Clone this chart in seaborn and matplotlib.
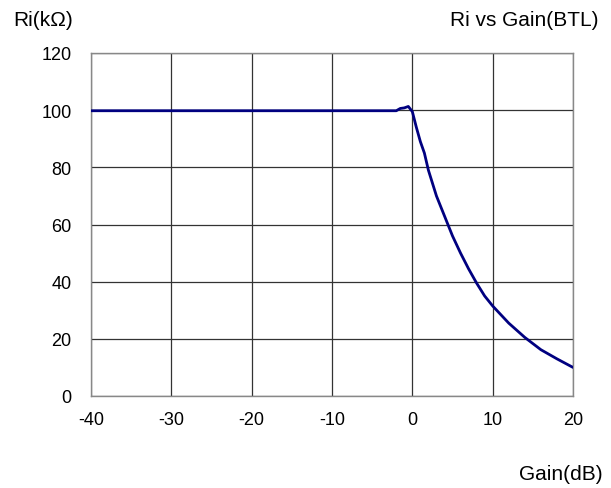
import matplotlib
matplotlib.use("Agg")
import matplotlib.pyplot as plt
import seaborn as sns
import pandas as pd

gain_db = [-40, -35, -30, -25, -20, -15, -10, -5, -2, -1.5, -1, -0.5, 0, 0.5, 1, 1.5, 2, 3, 4, 5, 6, 7, 8, 9, 10, 12, 14, 16, 18, 20]
ri_kohm = [99.8, 99.8, 99.8, 99.8, 99.8, 99.8, 99.8, 99.8, 99.8, 100.6, 100.8, 101.3, 99.5, 94, 89, 85, 79, 70, 63, 56, 50, 44.5, 39.5, 35, 31.5, 25.5, 20.5, 16.2, 13, 10]
x_ticks = [-40, -30, -20, -10, 0, 10, 20]
y_ticks = [0, 20, 40, 60, 80, 100, 120]

df = pd.DataFrame({"gain": gain_db, "ri": ri_kohm})

sns.set_style("white")
plt.rcParams['font.family'] = ['Liberation Sans', 'DejaVu Sans']
plt.rcParams['text.color'] = 'black'

fig = plt.figure(figsize=(6.11, 4.89), dpi=100)
ax = fig.add_axes([91/611, 92/489, 482/611, 343/489])
sns.lineplot(data=df, x="gain", y="ri", ax=ax, color="#000080", linewidth=2.0, zorder=3)

ax.set_xlim(-40, 20)
ax.set_ylim(0, 120)
ax.set_xticks(x_ticks)
ax.set_yticks(y_ticks)
ax.set_xticklabels([str(v) for v in x_ticks], fontsize=13)
ax.set_yticklabels([str(v) for v in y_ticks], fontsize=13)
ax.tick_params(axis='both', length=0, colors='black', labelcolor='black')
ax.tick_params(axis='x', pad=11)
ax.tick_params(axis='y', pad=14)
ax.grid(True, color='#333333', linewidth=0.9)
for s in ax.spines.values():
    s.set_color('#888888')
    s.set_linewidth(1.0)
ax.set_xlabel("")
ax.set_ylabel("")

fig.text(13/611, 1 - 20/489, "Ri(kΩ)", fontsize=15, ha='left', va='center', color='black')
fig.text(598/611, 1 - 21/489, "Ri vs Gain(BTL)", fontsize=15, ha='right', va='center', color='black')
fig.text(603/611, 1 - 475/489, "Gain(dB)", fontsize=15, ha='right', va='center', color='black')

fig.savefig("out.png", dpi=100)
